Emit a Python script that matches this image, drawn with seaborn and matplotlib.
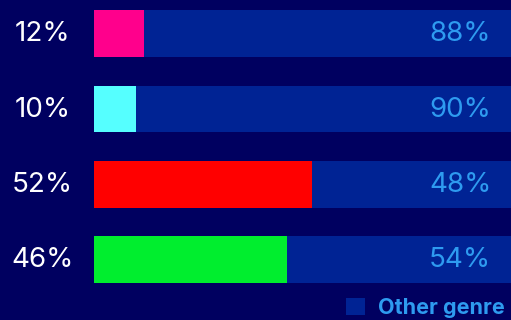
import matplotlib
matplotlib.use("Agg")
import matplotlib.pyplot as plt
from matplotlib.patches import Patch
import seaborn as sns
import pandas as pd

# Share of each genre versus all other genres (percent)
categories = ["A", "B", "C", "D"]
genre_share = [12, 10, 52, 46]
other_share = [88, 90, 48, 54]
genre_colors = ["#FF008C", "#55FFFF", "#FF0000", "#00EE2E"]
legend_label = "Other genre"

BG = "#000060"
OTHER = "#002394"
LABEL_BLUE = "#2E9BF0"

sns.set_theme(style="white")
plt.rcParams["font.family"] = ["Inter", "DejaVu Sans"]

df = pd.DataFrame({"cat": categories, "genre": genre_share, "other": other_share})
df["total"] = df["genre"] + df["other"]

fig = plt.figure(figsize=(5.11, 3.2), dpi=100, facecolor=BG)
ax = fig.add_axes([94 / 511, 1 - 297.2 / 320, 417 / 511, 297.2 / 320])
ax.set_facecolor(BG)

sns.barplot(data=df, x="total", y="cat", orient="h", color=OTHER,
            width=0.62, saturation=1, linewidth=0, ax=ax)
sns.barplot(data=df, x="genre", y="cat", orient="h", hue="cat",
            palette=genre_colors, legend=False, width=0.62, saturation=1,
            linewidth=0, ax=ax)

ax.set_xlim(0, 417 / 420 * 100)
ax.set_ylim(3.5, -0.445)
ax.set_xlabel("")
ax.set_ylabel("")
ax.set_xticks([])
ax.set_yticks([])
for s in ax.spines.values():
    s.set_visible(False)

for i, (g, o) in enumerate(zip(genre_share, other_share)):
    ax.text(-12.2, i + 0.01, f"{g}%", ha="center", va="center", color="white",
            fontsize=20, clip_on=False)
    ax.text(94.6, i + 0.01, f"{o}%", ha="right", va="center", color=LABEL_BLUE,
            fontsize=20)

handle = Patch(facecolor=OTHER, edgecolor="none")
fig.legend([handle], [legend_label], loc="center right",
           bbox_to_anchor=(1.008, 1 - 308 / 320), frameon=False,
           prop={"weight": "bold", "size": 15.5}, labelcolor=LABEL_BLUE,
           handlelength=0.85, handleheight=0.85, handletextpad=0.6,
           borderaxespad=0.1)

fig.savefig("out.png", dpi=100, facecolor=BG)
